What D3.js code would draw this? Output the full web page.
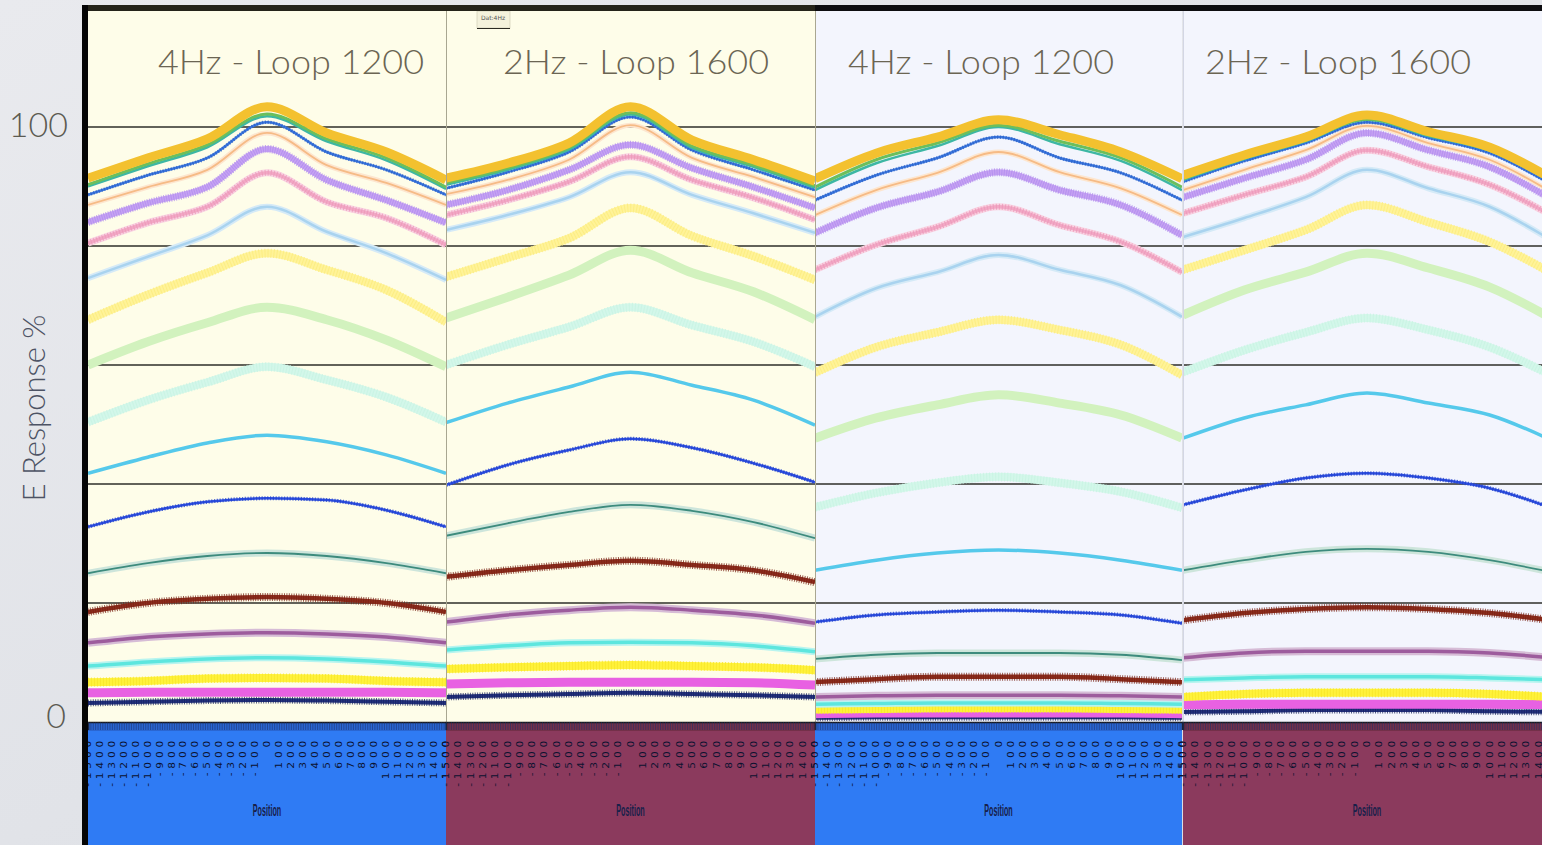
<!DOCTYPE html>
<html>
<head>
<meta charset="utf-8">
<script src="https://cdn.jsdelivr.net/npm/d3@7"></script>
<style>
  html, body { margin: 0; padding: 0; background: #e4e6ea; }
  svg { display: block; }
</style>
</head>
<body>
<svg id="chart" width="1542" height="845"></svg>
<script>
// ---- data -------------------------------------------------------------
const positions = [-1500, -1000, -500, 0, 500, 1000, 1500];

const tickLabels = ["-1500","-1400","-1300","-1200","-1100","-1000","-900","-800","-700","-600",
  "-500","-400","-300","-200","-100","0","100","200","300","400","500","600","700","800",
  "900","1000","1100","1200","1300","1400","1500"];

const yTicks = [0, 20, 40, 60, 80, 100];
const yLabels = ["0", "100"];

const panelTitles = ["4Hz - Loop 1200", "2Hz - Loop 1600", "4Hz - Loop 1200", "2Hz - Loop 1600"];

const seriesNames = ["S01","S02","S03","S04","S05","S06","S07","S08","S09","S10",
  "S11","S12","S13","S14","S15","S16","S17","S18","S19","S20"];

// E response (%) of each series at the positions above
const panel1Values = [
  [91.4, 94.8, 98.0, 103.4, 99.0, 95.8, 91.1],
  [90.3, 93.8, 97.0, 102.2, 98.0, 94.8, 89.9],
  [90.0, 93.4, 96.6, 101.8, 97.6, 94.4, 89.6],
  [88.6, 91.9, 94.8, 100.8, 95.8, 92.8, 88.6],
  [86.9, 89.9, 92.8, 99.0, 93.6, 90.6, 86.9],
  [84.0, 87.2, 89.9, 96.3, 91.1, 87.7, 83.9],
  [80.5, 83.9, 86.6, 92.3, 87.4, 84.7, 80.2],
  [74.6, 78.2, 81.8, 86.6, 82.4, 78.8, 74.3],
  [67.6, 71.8, 75.5, 78.8, 76.0, 72.6, 67.2],
  [60.0, 63.9, 67.1, 69.7, 67.6, 64.2, 59.7],
  [50.4, 54.1, 57.1, 59.7, 57.5, 54.6, 50.4],
  [41.8, 44.5, 46.9, 48.2, 47.1, 44.9, 41.8],
  [32.8, 35.3, 37.0, 37.6, 37.3, 35.6, 32.8],
  [25.0, 26.7, 27.9, 28.4, 27.9, 26.7, 25.0],
  [18.5, 20.0, 20.7, 21.0, 20.7, 20.0, 18.5],
  [13.3, 14.3, 14.8, 15.0, 14.8, 14.3, 13.3],
  [9.4, 10.1, 10.6, 10.8, 10.6, 10.1, 9.4],
  [6.7, 6.9, 7.3, 7.4, 7.3, 6.9, 6.7],
  [4.9, 5.0, 5.0, 5.0, 5.0, 5.0, 4.9],
  [3.2, 3.4, 3.6, 3.7, 3.6, 3.4, 3.2]
];

const panel2Values = [
  [91.4, 93.9, 97.3, 103.4, 97.8, 94.5, 90.9],
  [90.6, 93.1, 96.5, 102.4, 96.8, 93.6, 90.1],
  [90.3, 92.8, 96.2, 102.1, 96.5, 93.3, 89.8],
  [89.7, 92.4, 95.8, 101.7, 96.1, 92.8, 89.4],
  [88.7, 91.1, 94.5, 100.3, 94.8, 91.6, 88.2],
  [86.9, 89.4, 92.8, 97.0, 93.1, 89.9, 86.4],
  [85.2, 87.7, 90.8, 95.0, 91.1, 88.1, 84.4],
  [82.7, 85.2, 88.2, 92.4, 88.6, 85.5, 82.2],
  [74.8, 78.0, 81.3, 86.4, 81.7, 78.3, 74.3],
  [67.9, 71.4, 75.1, 79.3, 75.5, 72.3, 67.6],
  [60.0, 63.4, 66.4, 69.7, 66.7, 63.9, 59.7],
  [50.3, 53.6, 56.3, 58.8, 56.6, 54.1, 49.9],
  [39.8, 43.2, 45.7, 47.6, 46.1, 43.5, 40.3],
  [31.3, 33.4, 35.3, 36.5, 35.5, 33.6, 30.9],
  [24.4, 25.5, 26.4, 27.1, 26.4, 25.5, 23.5],
  [16.8, 18.0, 18.8, 19.3, 18.8, 18.0, 16.6],
  [12.1, 12.8, 13.3, 13.4, 13.3, 12.8, 11.8],
  [8.9, 9.2, 9.4, 9.6, 9.4, 9.2, 8.7],
  [6.4, 6.6, 6.7, 6.7, 6.7, 6.6, 6.2],
  [4.2, 4.5, 4.7, 4.9, 4.7, 4.5, 4.2]
];

const panel3Values = [
  [91.3, 95.6, 98.3, 101.2, 98.7, 95.8, 91.3],
  [89.9, 94.5, 97.3, 100.3, 97.6, 94.8, 89.9],
  [89.4, 93.9, 96.8, 100.0, 97.1, 94.3, 89.4],
  [87.7, 91.9, 94.8, 98.3, 94.8, 92.3, 87.7],
  [85.2, 89.4, 92.3, 95.8, 92.4, 89.7, 85.2],
  [82.2, 86.4, 89.1, 92.4, 89.4, 86.9, 81.8],
  [76.0, 80.2, 83.2, 86.6, 83.5, 80.7, 75.6],
  [68.1, 72.9, 75.6, 78.5, 76.0, 73.4, 68.1],
  [58.7, 63.0, 65.5, 67.6, 65.9, 63.4, 58.3],
  [47.7, 51.1, 53.3, 55.0, 53.6, 51.6, 47.7],
  [36.1, 38.5, 40.2, 41.2, 40.2, 38.7, 36.0],
  [25.5, 27.2, 28.4, 28.9, 28.4, 27.2, 25.5],
  [16.8, 18.0, 18.5, 18.8, 18.5, 18.0, 16.6],
  [10.6, 11.3, 11.6, 11.6, 11.6, 11.3, 10.4],
  [6.7, 7.2, 7.6, 7.6, 7.6, 7.2, 6.7],
  [4.2, 4.4, 4.5, 4.5, 4.5, 4.4, 4.2],
  [3.0, 3.1, 3.2, 3.2, 3.2, 3.1, 3.0],
  [2.1, 2.2, 2.3, 2.3, 2.3, 2.2, 2.1],
  [1.4, 1.5, 1.5, 1.5, 1.5, 1.5, 1.4],
  [0.7, 0.8, 0.8, 0.8, 0.8, 0.8, 0.7]
];

const panel4Values = [
  [91.9, 95.3, 98.3, 102.0, 99.2, 96.6, 91.4],
  [91.3, 94.8, 97.8, 101.3, 98.7, 96.1, 90.9],
  [91.1, 94.6, 97.6, 101.2, 98.5, 96.0, 90.8],
  [90.8, 94.3, 97.3, 100.8, 98.2, 95.6, 90.4],
  [89.4, 92.8, 96.1, 100.2, 97.3, 94.5, 89.1],
  [88.2, 91.4, 94.5, 99.0, 96.1, 93.3, 87.9],
  [85.5, 88.6, 91.6, 96.1, 93.3, 90.3, 85.2],
  [81.5, 84.7, 88.2, 92.8, 89.7, 86.6, 81.0],
  [76.0, 79.3, 82.7, 86.9, 84.0, 80.7, 75.5],
  [68.4, 72.6, 75.6, 78.8, 76.3, 73.1, 67.9],
  [58.8, 62.5, 65.5, 67.9, 65.9, 63.0, 58.3],
  [47.7, 51.1, 53.3, 55.3, 53.6, 51.6, 47.4],
  [36.5, 39.0, 41.0, 41.8, 41.0, 39.3, 36.0],
  [25.5, 27.2, 28.6, 29.1, 28.6, 27.2, 25.2],
  [17.1, 18.3, 19.0, 19.3, 19.0, 18.3, 17.1],
  [10.8, 11.6, 11.9, 11.9, 11.9, 11.6, 10.8],
  [7.1, 7.4, 7.6, 7.6, 7.6, 7.4, 7.1],
  [4.2, 4.7, 4.9, 4.9, 4.9, 4.7, 4.2],
  [2.9, 3.0, 3.0, 3.0, 3.0, 3.0, 2.9],
  [1.7, 1.8, 2.0, 2.0, 2.0, 1.8, 1.7]
];

// ---- styling ------------------------------------------------------------
const seriesStyles = [
  { color: "#f3c12f", width: 9 },
  { color: "#6cbf5c", width: 3 },
  { color: "#3db7a4", width: 2.5 },
  { color: "#3a77e0", width: 2.5, hatch: "#2b5fc4", hatchWidth: 3.5, dash: "1.2 1.6" },
  { color: "#f6bb86", width: 1.8, halo: "#fde6cf", haloWidth: 5 },
  { color: "#c6a2f3", width: 6, hatch: "#b08cee", hatchWidth: 8, dash: "1 1.4" },
  { color: "#f2a8c5", width: 3.5, halo: "#f9d3e2", haloWidth: 7, hatch: "#eb97b8", hatchWidth: 6, dash: "1 2" },
  { color: "#a9d3ef", width: 2.5, halo: "#d5eaf7", haloWidth: 6 },
  { color: "#fff398", width: 8, hatch: "#fbeb7c", hatchWidth: 9, dash: "1 2" },
  { color: "#d2f2be", width: 9 },
  { color: "#d3f7ea", width: 8, hatch: "#c7f3e2", hatchWidth: 9, dash: "1 2" },
  { color: "#55c9eb", width: 3.5 },
  { color: "#2d4fe3", width: 2.5, hatch: "#2140c8", hatchWidth: 4, dash: "1.2 1.6" },
  { color: "#3d8b7d", width: 1.8, halo: "#cde5db", haloWidth: 7 },
  { color: "#8c2c1c", width: 4.5, hatch: "#7a2214", hatchWidth: 8, dash: "1 1.4" },
  { color: "#9d5c9d", width: 3.5, halo: "#d6bcd6", haloWidth: 8 },
  { color: "#5de6de", width: 3.5, halo: "#b8f4ef", haloWidth: 7 },
  { color: "#fff23a", width: 8, hatch: "#f7e52a", hatchWidth: 9, dash: "1 2" },
  { color: "#e861e2", width: 9 },
  { color: "#22307e", width: 4, hatch: "#16215e", hatchWidth: 7, dash: "1 1.4" }
];

const panels = [
  { x0: 88,   x1: 446,  values: panel1Values, bg: "#fefde9", band: "#2f7bf4", bandTop: "#2a66d2" },
  { x0: 446,  x1: 815,  values: panel2Values, bg: "#fefde9", band: "#8b3a5d", bandTop: "#733049" },
  { x0: 815,  x1: 1182, values: panel3Values, bg: "#f3f5fd", band: "#2f7bf4", bandTop: "#2a66d2" },
  { x0: 1183, x1: 1551, values: panel4Values, bg: "#f3f5fd", band: "#8b3a5d", bandTop: "#733049" }
];

// ---- drawing ------------------------------------------------------------
const svg = d3.select("#chart");
const W = 1542, H = 845;
const plotTop = 11, plotBottom = 722;

const defs = svg.append("defs");
const bgGrad = defs.append("linearGradient").attr("id", "sideGrad")
  .attr("x1", "0").attr("y1", "0").attr("x2", "1").attr("y2", "1");
bgGrad.append("stop").attr("offset", "0").attr("stop-color", "#e9eaee");
bgGrad.append("stop").attr("offset", "1").attr("stop-color", "#d9dce2");

svg.append("rect").attr("width", W).attr("height", H).attr("fill", "url(#sideGrad)");

const y = d3.scaleLinear().domain([0, 100]).range([plotBottom, 127]);

panels.forEach((p, pi) => {
  const x = d3.scaleLinear().domain([positions[0], positions[positions.length - 1]]).range([p.x0, p.x1]);
  const g = svg.append("g");

  const clipId = "clip" + pi;
  defs.append("clipPath").attr("id", clipId)
    .append("rect").attr("x", p.x0).attr("y", plotTop).attr("width", p.x1 - p.x0).attr("height", plotBottom - plotTop);

  // panel background
  g.append("rect").attr("x", p.x0).attr("y", plotTop).attr("width", p.x1 - p.x0)
    .attr("height", plotBottom - plotTop).attr("fill", p.bg);

  // horizontal grid
  g.selectAll("line.grid").data(yTicks.filter(t => t > 0)).join("line")
    .attr("class", "grid")
    .attr("x1", p.x0).attr("x2", p.x1)
    .attr("y1", d => y(d)).attr("y2", d => y(d))
    .attr("stroke", "#2e2e28").attr("stroke-width", 1.4);

  // series
  const line = d3.line().x((d, i) => x(positions[i])).y(d => y(d)).curve(d3.curveMonotoneX);
  const layer = g.append("g").attr("clip-path", `url(#${clipId})`);
  const order = d3.range(p.values.length).reverse();
  order.forEach(si => {
    const st = seriesStyles[si];
    const dPath = line(p.values[si]);
    if (st.halo) {
      layer.append("path").attr("d", dPath).attr("fill", "none")
        .attr("stroke", st.halo).attr("stroke-width", st.haloWidth).attr("stroke-linejoin", "round");
    }
    layer.append("path").attr("d", dPath).attr("fill", "none")
      .attr("stroke", st.color).attr("stroke-width", st.width)
      .attr("stroke-linejoin", "round").attr("data-series", seriesNames[si]);
    if (st.hatch) {
      layer.append("path").attr("d", dPath).attr("fill", "none")
        .attr("stroke", st.hatch).attr("stroke-width", st.hatchWidth)
        .attr("stroke-dasharray", st.dash).attr("opacity", 0.75);
    }
  });

  // divider on the left side of each panel
  if (pi > 0) {
    g.append("line").attr("x1", p.x0 + 0.5).attr("x2", p.x0 + 0.5)
      .attr("y1", plotTop).attr("y2", plotBottom)
      .attr("stroke", pi === 3 ? "#d3d6e4" : "#a9a791").attr("stroke-width", 1);
  }

  // position axis band
  g.append("rect").attr("x", p.x0).attr("y", plotBottom).attr("width", p.x1 - p.x0)
    .attr("height", H - plotBottom).attr("fill", p.band);
  g.append("rect").attr("x", p.x0).attr("y", plotBottom).attr("width", p.x1 - p.x0)
    .attr("height", 9).attr("fill", p.bandTop);

  const minor = d3.axisBottom(x).ticks(150).tickSize(8).tickFormat("");
  const mg = g.append("g").attr("transform", `translate(0,${plotBottom})`).call(minor);
  mg.select(".domain").attr("stroke", "#1b1b1b").attr("stroke-width", 1.5);
  mg.selectAll(".tick line").attr("stroke", "#1c2f6a").attr("stroke-opacity", 0.55);

  // rotated position labels; the ones that run past the page edge are left out
  g.selectAll("text.tick").data(tickLabels.filter(d => x(+d) + 3 <= W)).join("text")
    .attr("class", "tick")
    .attr("transform", d => `translate(${x(+d) + 3},737) rotate(-90) scale(1.3,1)`)
    .attr("text-anchor", "end")
    .attr("font-family", "DejaVu Sans, sans-serif")
    .attr("font-size", 8.2)
    .attr("letter-spacing", 2.9)
    .attr("fill", "#0b1230")
    .text(d => d);

  g.append("text")
    .attr("transform", `translate(${(p.x0 + p.x1) / 2},816) scale(0.45,1)`)
    .attr("text-anchor", "middle")
    .attr("font-family", "Liberation Sans, sans-serif")
    .attr("font-weight", "bold")
    .attr("font-size", 16)
    .attr("fill", "#17204a")
    .text("Position");

  // panel title
  const titleX = [158, 503, 848, 1205][pi];
  g.append("text")
    .attr("x", titleX).attr("y", 74)
    .attr("font-family", "Lato, 'Open Sans', sans-serif")
    .attr("font-weight", 300)
    .attr("font-size", 34)
    .attr("fill", "#6b6553")
    .attr("textLength", 266).attr("lengthAdjust", "spacingAndGlyphs")
    .text(panelTitles[pi]);
});

// small data tag in the second panel
svg.append("rect").attr("x", 477).attr("y", 11).attr("width", 33).attr("height", 17)
  .attr("fill", "#f4f2dc").attr("stroke", "#c9c7b0").attr("stroke-width", 0.6);
svg.append("line").attr("x1", 477).attr("x2", 510).attr("y1", 28.5).attr("y2", 28.5)
  .attr("stroke", "#2a2a22").attr("stroke-width", 1);
svg.append("text").attr("x", 493).attr("y", 20).attr("text-anchor", "middle")
  .attr("font-family", "DejaVu Sans, sans-serif").attr("font-size", 6).attr("fill", "#555")
  .text("Dat:4Hz");

// frame: top bar and left bar
svg.append("rect").attr("x", 82).attr("y", 5).attr("width", W - 82).attr("height", 6).attr("fill", "#25241a");
svg.append("rect").attr("x", 815).attr("y", 5).attr("width", W - 815).attr("height", 6).attr("fill", "#0d0d10");
svg.append("rect").attr("x", 82).attr("y", 5).attr("width", 6).attr("height", H - 5).attr("fill", "#050505");

// y axis labels
svg.append("text").attr("x", 68).attr("y", 137).attr("text-anchor", "end")
  .attr("font-family", "Lato, 'Open Sans', sans-serif").attr("font-weight", 300)
  .attr("font-size", 34).attr("fill", "#5c5b52").text(yLabels[1]);
svg.append("text").attr("x", 66).attr("y", 728).attr("text-anchor", "end")
  .attr("font-family", "Lato, 'Open Sans', sans-serif").attr("font-weight", 300)
  .attr("font-size", 34).attr("fill", "#5c5b52").text(yLabels[0]);
svg.append("text")
  .attr("transform", "translate(45,408) rotate(-90)")
  .attr("text-anchor", "middle")
  .attr("font-family", "Lato, 'Open Sans', sans-serif").attr("font-weight", 300)
  .attr("font-size", 31).attr("fill", "#4d5364")
  .text("E Response %");
</script>
</body>
</html>
